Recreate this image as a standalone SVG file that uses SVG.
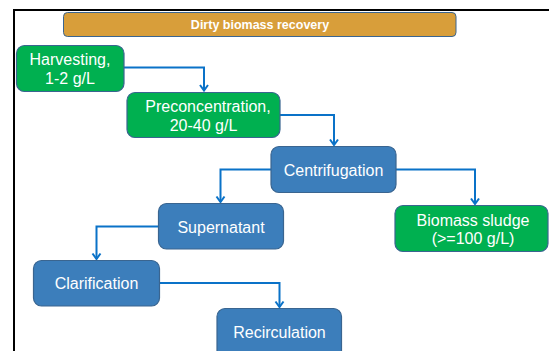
<svg xmlns="http://www.w3.org/2000/svg" width="549" height="351" viewBox="0 0 549 351">
<style>
.box{stroke:#3A6590;stroke-width:1.2}
.g{fill:#00B050}
.b{fill:#3C7EBB}
.t{font-family:"Liberation Sans",Arial,sans-serif;font-size:16px;fill:#fff;text-anchor:middle}
.c{fill:none;stroke:#0A72C8;stroke-width:2}
</style>
<defs>
<marker id="ah" viewBox="-8 -6 10 12" refX="0" refY="0" markerWidth="10" markerHeight="12" orient="auto" markerUnits="userSpaceOnUse" overflow="visible">
<path d="M-5.5,-4 L0,0 L-5.5,4" fill="none" stroke="#0A72C8" stroke-width="2" stroke-linejoin="miter"/>
</marker>
</defs>
<rect x="0" y="0" width="549" height="351" fill="#fff"/>
<rect x="14" y="10" width="600" height="400" fill="none" stroke="#000" stroke-width="2"/>
<g id="title">
<rect x="63.5" y="12.5" width="392.5" height="24" rx="4" fill="#D89E3A" stroke="#3A6590" stroke-width="1"/>
<text x="260" y="28.5" font-family="Liberation Sans,Arial,sans-serif" font-size="12.5" font-weight="bold" fill="#fff" text-anchor="middle">Dirty biomass recovery</text>
</g>
<g id="connectors">
<path class="c" d="M124,67.5 H204 V90.5" marker-end="url(#ah)"/>
<path class="c" d="M280,115 H334 V145" marker-end="url(#ah)"/>
<path class="c" d="M271,169.5 H220.5 V202" marker-end="url(#ah)"/>
<path class="c" d="M396,169.5 H475 V204" marker-end="url(#ah)"/>
<path class="c" d="M158.5,226.5 H96.5 V259" marker-end="url(#ah)"/>
<path class="c" d="M159.5,283 H279.5 V307" marker-end="url(#ah)"/>
</g>
<g id="harvesting">
<rect class="box g" x="16.5" y="45.5" width="107.5" height="46" rx="8"/>
<text class="t" x="70" y="65">Harvesting,</text>
<text class="t" x="70" y="84">1-2 g/L</text>
</g>
<g id="preconcentration">
<rect class="box g" x="127" y="92.5" width="153" height="45" rx="8"/>
<text class="t" x="208" y="112" font-size="17">Preconcentration,</text>
<text class="t" x="203.5" y="131">20-40 g/L</text>
</g>
<g id="centrifugation">
<rect class="box b" x="271" y="146.5" width="125" height="46" rx="8"/>
<text class="t" x="333.5" y="175.5">Centrifugation</text>
</g>
<g id="supernatant">
<rect class="box b" x="158.5" y="203.5" width="125" height="45.5" rx="8"/>
<text class="t" x="221" y="232.5">Supernatant</text>
</g>
<g id="biomass-sludge">
<rect class="box g" x="395" y="205.5" width="153" height="46" rx="8"/>
<text class="t" x="473" y="226">Biomass sludge</text>
<text class="t" x="473" y="244">(&gt;=100 g/L)</text>
</g>
<g id="clarification">
<rect class="box b" x="33.5" y="260.5" width="126" height="45.5" rx="8"/>
<text class="t" x="96.5" y="288.5">Clarification</text>
</g>
<g id="recirculation">
<rect class="box b" x="217" y="308.5" width="124.5" height="50" rx="8"/>
<text class="t" x="279.5" y="337.5">Recirculation</text>
</g>
</svg>
